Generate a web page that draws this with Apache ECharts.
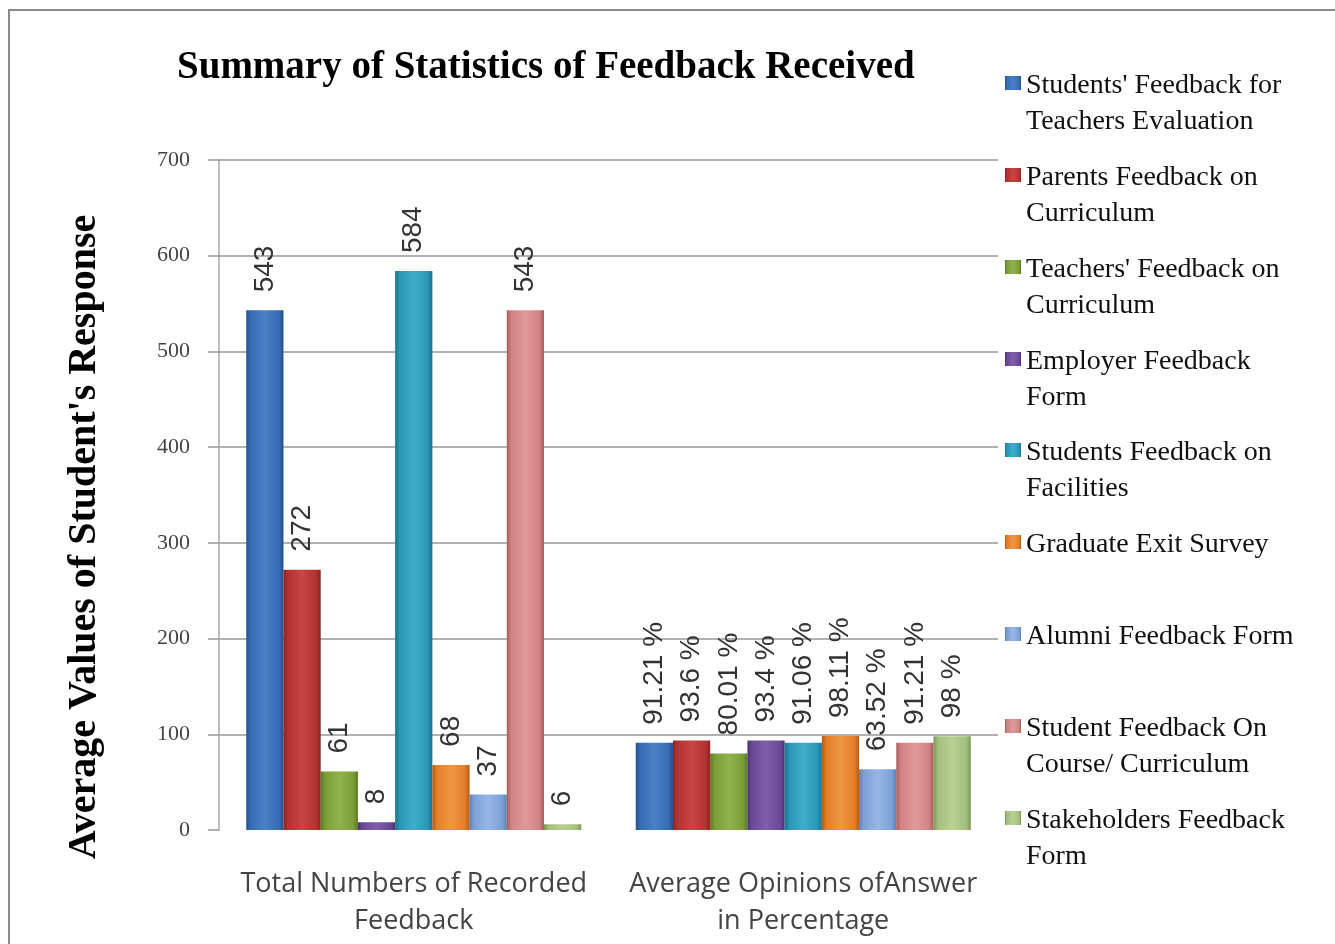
<!DOCTYPE html>
<html>
<head>
<meta charset="utf-8">
<script src="https://cdn.jsdelivr.net/npm/echarts@6/dist/echarts.min.js"></script>
<style>html,body{margin:0;padding:0;background:#fff}#c{width:1335px;height:944px}</style>
</head>
<body>
<div id="c"></div>
<script>
// ---- data ----
const categories = ['Total Numbers of Recorded\nFeedback', 'Average Opinions ofAnswer\nin Percentage'];
const seriesNames = [
  "Students' Feedback for\nTeachers Evaluation",
  "Parents Feedback on\nCurriculum",
  "Teachers' Feedback on\nCurriculum",
  "Employer Feedback\nForm",
  "Students Feedback on\nFacilities",
  "Graduate Exit Survey",
  "Alumni Feedback Form",
  "Student Feedback On\nCourse/ Curriculum",
  "Stakeholders Feedback\nForm"
];
const totalRecorded = [543, 272, 61, 8, 584, 68, 37, 543, 6];
const avgOpinionPct = [91.21, 93.6, 80.01, 93.4, 91.06, 98.11, 63.52, 91.21, 98];
const yTicks = [0, 100, 200, 300, 400, 500, 600, 700];
const titleText = 'Summary of Statistics of Feedback Received';
const yAxisTitle = "Average Values of Student's Response";

// ---- styling ----
const colors = [
  ['#23508c', '#356cb4', '#4a80c6'],
  ['#8c2222', '#b33232', '#c64644'],
  ['#5a7820', '#7b9d36', '#91b34e'],
  ['#4c3274', '#6a4896', '#7f5fab'],
  ['#1b7390', '#2896b4', '#40aecb'],
  ['#b45a12', '#e37e28', '#ef9745'],
  ['#5c80b6', '#7ca0d6', '#97b6e4'],
  ['#a65c5c', '#d18383', '#de9a9a'],
  ['#7a9456', '#a3c07c', '#b8d192']
];
function grad(c) {
  return new echarts.graphic.LinearGradient(0, 0, 1, 0, [
    {offset: 0, color: c[0]}, {offset: 0.12, color: c[1]},
    {offset: 0.5, color: c[2]}, {offset: 0.88, color: c[1]}, {offset: 1, color: c[0]}
  ]);
}

const firstLineCenters = [86, 178, 270, 362, 453, 545, 637, 729, 821];
const lineH = 36;

const series = seriesNames.map((name, i) => ({
  name: name,
  type: 'bar',
  barGap: '0%',
  barCategoryGap: '14%',
  data: [totalRecorded[i], avgOpinionPct[i]],
  itemStyle: {color: grad(colors[i])},
  label: {
    show: true,
    position: 'top',
    rotate: 90,
    align: 'left',
    verticalAlign: 'middle',
    distance: 18,
    fontFamily: 'Liberation Sans',
    fontSize: 28,
    color: '#333',
    formatter: p => p.dataIndex === 1 ? p.value + ' %' : String(p.value)
  }
}));

const legends = seriesNames.map((name, i) => {
  const lines = name.split('\n').length;
  const h = lines * lineH;
  // square marker drawn level with the first text line; zero-area anchors span the full block height
  const icon = 'path://M0,0L0,0M0,8h16v14h-16zM0,' + h + 'L0,' + h;
  return {
    data: [{name: name, icon: icon}],
    orient: 'vertical',
    left: 1005,
    top: firstLineCenters[i] - lineH / 2,
    padding: 0,
    itemWidth: 16,
    itemHeight: h,
    itemGap: 0,
    selectedMode: false,
    textStyle: {fontFamily: 'Liberation Serif', fontSize: 28, lineHeight: lineH, color: '#111'}
  };
});

const chart = echarts.init(document.getElementById('c'), null, {renderer: 'canvas'});
chart.setOption({
  backgroundColor: '#fff',
  animation: false,
  title: {
    text: titleText,
    left: 172,
    top: 43,
    textStyle: {fontFamily: 'Liberation Serif', fontWeight: 'bold', fontSize: 39, color: '#000'}
  },
  legend: legends,
  graphic: [{
    type: 'rect', silent: true,
    shape: {x: 9, y: 10, width: 1400, height: 1000},
    style: {fill: 'none', stroke: '#8c8c8c', lineWidth: 2}
  }],
  grid: {left: 219, right: 337, top: 160, bottom: 114},
  xAxis: {
    type: 'category',
    data: categories,
    axisLine: {show: false},
    axisTick: {show: false},
    axisLabel: {
      margin: 36,
      fontFamily: 'Open Sans',
      fontSize: 27,
      lineHeight: 37,
      color: '#444',
      interval: 0
    }
  },
  yAxis: {
    type: 'value',
    min: yTicks[0],
    max: yTicks[yTicks.length - 1],
    interval: yTicks[1] - yTicks[0],
    name: yAxisTitle,
    nameLocation: 'middle',
    nameRotate: 90,
    nameGap: 114,
    nameTextStyle: {fontFamily: 'Liberation Serif', fontWeight: 'bold', fontSize: 40, color: '#000', padding: [0, 84, 0, 0]},
    axisLine: {show: true, lineStyle: {color: '#aaa', width: 1.5}},
    axisTick: {show: true, length: 11, lineStyle: {color: '#999', width: 1.5}},
    axisLabel: {margin: 29, fontFamily: 'Liberation Serif', fontSize: 22, color: '#444'},
    splitLine: {show: true, lineStyle: {color: ['rgba(0,0,0,0)', '#999', '#999', '#999', '#999', '#999', '#999', '#999'], width: 1.5}}
  },
  series: series
});
</script>
</body>
</html>
